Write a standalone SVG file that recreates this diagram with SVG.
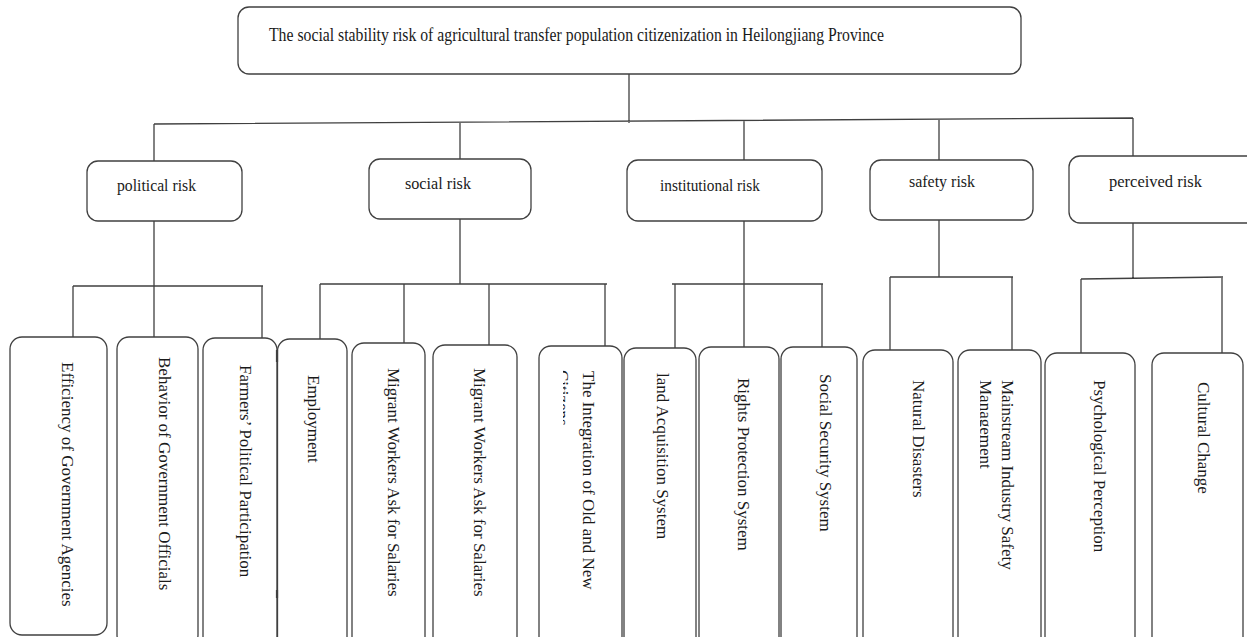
<svg xmlns="http://www.w3.org/2000/svg" width="1247" height="637" viewBox="0 0 1247 637">
<style>
.box{fill:#fff;stroke:#404040;stroke-width:1.3}
.ln{stroke:#404040;stroke-width:1.3;fill:none}
text{font-family:"Liberation Serif","Times New Roman",serif;font-size:17px;fill:#1a1a1a}
.t{font-size:18px}
</style>
<defs>
<clipPath id="clipInt"><rect x="563" y="340" width="60" height="300"/></clipPath>
<clipPath id="clipMain"><rect x="980" y="340" width="60" height="300"/></clipPath>
</defs>
<rect width="1247" height="637" fill="#fff"/>
<g id="connectors">
<path class="ln" d="M629,74V123 M154,124L1133,118 M154,124V161 M460,123V159 M744,121V160 M939,119V160 M1133,118V156"/>
<path class="ln" d="M154,221V337 M73,286H263 M73,286V337 M262,286V338"/>
<path class="ln" d="M460,219V284 M320,284H607 M320,284V339 M404,284V343 M489,284V345 M605,284V346"/>
<path class="ln" d="M744,221V347 M672,284H823 M675,284V348 M822,284V347"/>
<path class="ln" d="M939,220V277 M890,277H1013 M890,277V350 M1012,277V350"/>
<path class="ln" d="M1133,223V278 M1081,279L1223,277 M1081,279V353 M1222,277V353"/>
</g>
<g id="root"><rect class="box" x="238" y="7" width="783" height="67" rx="11"/><text class="t" x="269" y="41" textLength="615" lengthAdjust="spacingAndGlyphs">The social stability risk of agricultural transfer population citizenization in Heilongjiang Province</text></g>
<g id="political"><rect class="box" x="87" y="161" width="155" height="60" rx="11"/><text x="117" y="191" textLength="79" lengthAdjust="spacingAndGlyphs">political risk</text></g>
<g id="social"><rect class="box" x="369" y="159" width="162" height="60" rx="11"/><text x="405" y="189" textLength="66" lengthAdjust="spacingAndGlyphs">social risk</text></g>
<g id="institutional"><rect class="box" x="627" y="160" width="195" height="61" rx="11"/><text x="660" y="191" textLength="100" lengthAdjust="spacingAndGlyphs">institutional risk</text></g>
<g id="safety"><rect class="box" x="870" y="160" width="163" height="60" rx="11"/><text x="909" y="187" textLength="66" lengthAdjust="spacingAndGlyphs">safety risk</text></g>
<g id="perceived"><rect class="box" x="1069" y="156" width="200" height="67" rx="11"/><text x="1109" y="187" textLength="93" lengthAdjust="spacingAndGlyphs">perceived risk</text></g>
<g id="efficiency"><rect class="box" x="10" y="337" width="97" height="298" rx="12"/><text transform="translate(61.5,362) rotate(90)">Efficiency of Government Agencies</text></g>
<g id="behavior"><rect class="box" x="117" y="337" width="81" height="310" rx="12"/><text transform="translate(158.5,357) rotate(90)">Behavior of Government Officials</text></g>
<g id="farmers"><rect class="box" x="203" y="338" width="74" height="310" rx="12"/><text transform="translate(239.5,365) rotate(90)">Farmers’ Political Participation</text></g>
<g id="employment"><rect class="box" x="277.5" y="339" width="69.5" height="310" rx="12"/><text transform="translate(307.5,375) rotate(90)">Employment</text><path d="M277,350V362 M277,590V598" stroke="#404040" stroke-width="2.2"/></g>
<g id="migrant1"><rect class="box" x="352" y="343" width="73" height="310" rx="12"/><text transform="translate(387.5,368) rotate(90)">Migrant Workers Ask for Salaries</text></g>
<g id="migrant2"><rect class="box" x="433" y="345" width="84" height="310" rx="12"/><text transform="translate(473.5,368) rotate(90)">Migrant Workers Ask for Salaries</text></g>
<g id="integration"><rect class="box" x="539" y="346" width="83" height="310" rx="12"/><text transform="translate(582.5,371) rotate(90)">The Integration of Old and New</text><g clip-path="url(#clipInt)"><text transform="translate(557,370) rotate(90)">Citizens</text></g></g>
<g id="land"><rect class="box" x="624" y="348" width="72" height="310" rx="12"/><text transform="translate(656.5,373) rotate(90)">land Acquisition System</text></g>
<g id="rights"><rect class="box" x="699" y="347" width="80" height="310" rx="12"/><text transform="translate(737.5,378) rotate(90)">Rights Protection System</text></g>
<g id="socialsec"><rect class="box" x="781" y="347" width="76" height="310" rx="12"/><text transform="translate(819.5,374) rotate(90)">Social Security System</text></g>
<g id="natural"><rect class="box" x="863" y="350" width="90" height="310" rx="12"/><text transform="translate(912.5,380) rotate(90)">Natural Disasters</text></g>
<g id="mainstream"><rect class="box" x="958" y="350" width="83" height="310" rx="12"/><text transform="translate(1001.5,380) rotate(90)">Mainstream Industry Safety</text><g clip-path="url(#clipMain)"><text transform="translate(980,380) rotate(90)">Management</text></g></g>
<g id="psychological"><rect class="box" x="1045" y="353" width="90" height="310" rx="12"/><text transform="translate(1093.5,380) rotate(90)">Psychological Perception</text></g>
<g id="cultural"><rect class="box" x="1152" y="353" width="91" height="310" rx="12"/><text transform="translate(1197.5,382) rotate(90)">Cultural Change</text></g>
</svg>
